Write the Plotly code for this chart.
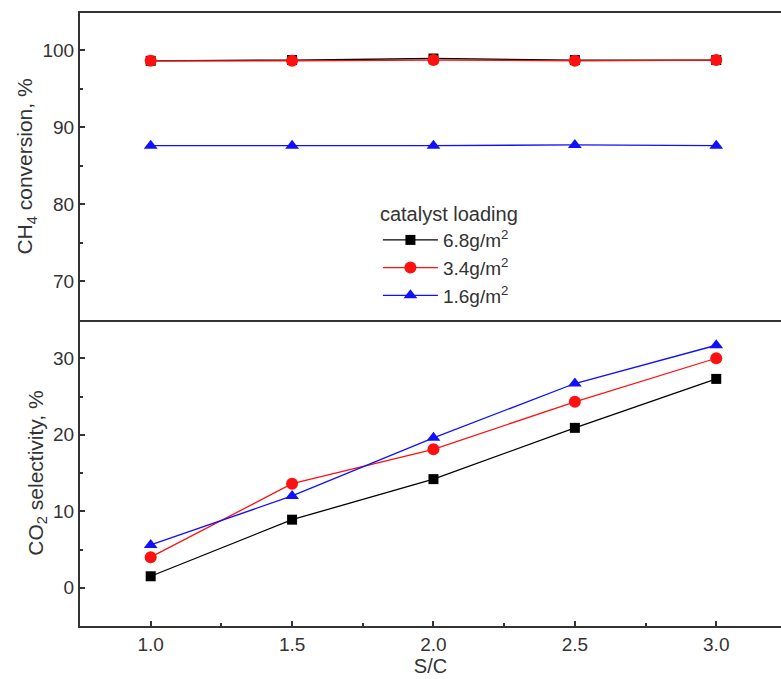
import plotly.graph_objects as go

# ---- data ----
sc = [1.0, 1.5, 2.0, 2.5, 3.0]
series_names = ["6.8g/m<sup>2</sup>", "3.4g/m<sup>2</sup>", "1.6g/m<sup>2</sup>"]
ch4_68 = [98.6, 98.7, 98.9, 98.7, 98.7]
ch4_34 = [98.6, 98.6, 98.7, 98.6, 98.7]
ch4_16 = [87.6, 87.6, 87.6, 87.7, 87.6]
co2_68 = [1.5, 8.9, 14.2, 20.9, 27.3]
co2_34 = [4.0, 13.6, 18.1, 24.3, 30.0]
co2_16 = [5.6, 12.0, 19.6, 26.7, 31.7]

colors = ["#000000", "#ff1010", "#1010ff"]
symbols = ["square", "circle", "triangle-up"]
sizes = [10, 12, 12]

FONT = "Liberation Sans, Arial, sans-serif"
TXT = "#333333"
AX = "#333333"

fig = go.Figure()
top = [ch4_68, ch4_34, ch4_16]
bot = [co2_68, co2_34, co2_16]
for i in range(3):
    fig.add_trace(go.Scatter(
        x=sc, y=top[i], xaxis="x2", yaxis="y2", mode="lines+markers",
        name=series_names[i], legendgroup=str(i), showlegend=True,
        line=dict(color=colors[i], width=1.3),
        marker=dict(symbol=symbols[i], size=sizes[i], color=colors[i]),
    ))
for i in range(3):
    fig.add_trace(go.Scatter(
        x=sc, y=bot[i], xaxis="x", yaxis="y", mode="lines+markers",
        name=series_names[i], legendgroup=str(i), showlegend=False,
        line=dict(color=colors[i], width=1.3),
        marker=dict(symbol=symbols[i], size=sizes[i], color=colors[i]),
    ))

split = 306 / 613
xr = [0.75, 3.229]
common_tick = dict(tickfont=dict(family=FONT, size=19, color=TXT))

fig.update_layout(
    width=781, height=679,
    margin=dict(l=80, r=0, t=13, b=53),
    paper_bgcolor="white", plot_bgcolor="white",
    font=dict(family=FONT, color=TXT),
    xaxis=dict(
        domain=[0, 1], anchor="y", range=xr,
        tickvals=sc, ticktext=["1.0", "1.5", "2.0", "2.5", "3.0"],
        ticks="inside", ticklen=5, tickwidth=1.5, tickcolor=AX,
        minor=dict(tickvals=[1.25, 1.75, 2.25, 2.75], ticks="inside", ticklen=3, tickcolor=AX),
        showline=True, linecolor=AX, linewidth=2, mirror=False,
        showgrid=False, zeroline=False,
        title=dict(text="S/C", font=dict(family=FONT, size=20, color=TXT), standoff=0),
        **common_tick,
    ),
    xaxis2=dict(
        domain=[0, 1], anchor="y2", range=xr, matches="x",
        showticklabels=False, ticks="",
        showline=True, linecolor=AX, linewidth=2, mirror=True,
        showgrid=False, zeroline=False,
    ),
    yaxis=dict(
        domain=[0, split], anchor="x", range=[-5, 35],
        tickvals=[0, 10, 20, 30],
        ticks="inside", ticklen=5, tickwidth=1.5, tickcolor=AX,
        minor=dict(tickvals=[5, 15, 25], ticks="inside", ticklen=3, tickcolor=AX),
        showline=True, linecolor=AX, linewidth=2,
        showgrid=False, zeroline=False,
        title=dict(text="CO<sub>2</sub> selectivity, %", font=dict(family=FONT, size=21, color=TXT), standoff=4),
        **common_tick,
    ),
    yaxis2=dict(
        domain=[split, 1], anchor="x2", range=[65, 104.8],
        tickvals=[70, 80, 90, 100],
        ticks="inside", ticklen=5, tickwidth=1.5, tickcolor=AX,
        minor=dict(tickvals=[75, 85, 95], ticks="inside", ticklen=3, tickcolor=AX),
        showline=True, linecolor=AX, linewidth=2,
        showgrid=False, zeroline=False,
        title=dict(text="CH<sub>4</sub> conversion, %", font=dict(family=FONT, size=21, color=TXT), standoff=4),
        **common_tick,
    ),
    legend=dict(
        x=0.425, y=0.703, xanchor="left", yanchor="top",
        bgcolor="rgba(0,0,0,0)",
        title=dict(text="catalyst loading", font=dict(family=FONT, size=20, color=TXT)),
        font=dict(family=FONT, size=19, color=TXT),
        itemwidth=55, tracegroupgap=0,
    ),
)

fig.write_html("out.html")
